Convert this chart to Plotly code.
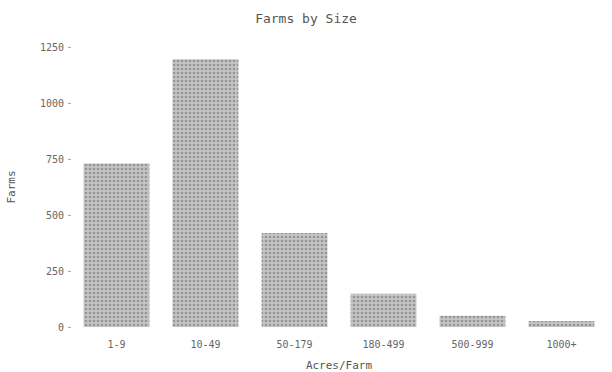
import plotly.graph_objects as go

# Farm counts by size class
size_classes = ["1-9", "10-49", "50-179", "180-499", "500-999", "1000+"]
farms = [730, 1195, 420, 148, 50, 27]
y_ticks = [0, 250, 500, 750, 1000, 1250]

fig = go.Figure(
    go.Bar(
        x=size_classes,
        y=farms,
        marker=dict(
            color="#b0b0b0",
            line=dict(width=0),
            pattern=dict(shape=".", fgcolor="#666666", bgcolor="#c4c4c4", size=4, solidity=0.35),
        ),
        width=0.74,
    )
)

fig.update_layout(
    width=612,
    height=372,
    margin=dict(l=72, r=6, t=47, b=45),
    paper_bgcolor="white",
    plot_bgcolor="white",
    font=dict(family="DejaVu Sans Mono", size=10, color="#666666"),
    title=dict(text="Farms by Size", x=0.5, xanchor="center", y=0.95, yanchor="middle",
               font=dict(size=13, color="#555555")),
    showlegend=False,
)
fig.update_xaxes(
    title=dict(text="Acres/Farm", standoff=12, font=dict(size=11, color="#555555")),
    showgrid=False, showline=False, ticks="", zeroline=False,
    ticklabelstandoff=10, automargin=False,
)
fig.update_yaxes(
    title=dict(text="Farms", standoff=22, font=dict(size=11, color="#555555")),
    range=[0, 1250], tickvals=y_ticks, showgrid=False, showline=False,
    ticks="outside", ticklen=3, tickcolor="#aaaaaa", zeroline=False,
    ticklabelstandoff=2, automargin=False,
)

fig.write_html("out.html")
